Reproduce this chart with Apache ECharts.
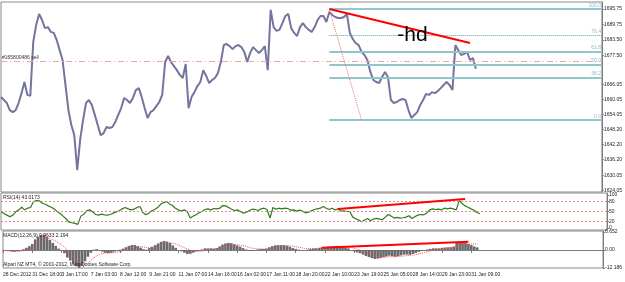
<!DOCTYPE html>
<html>
<head>
<meta charset="utf-8">
<script src="https://cdn.jsdelivr.net/npm/echarts@6/dist/echarts.min.js"></script>
<style>
  html, body { margin: 0; padding: 0; background: #fff; }
  #chart { width: 625px; height: 282px; }
</style>
</head>
<body>
<div id="chart"></div>
<script>
// time axis labels, one every 10 samples
const TIME_LABELS = [
  "28 Dec 2012", "31 Dec 18:00", "3 Jan 17:00", "7 Jan 03:00", "8 Jan 12:00",
  "9 Jan 21:00", "11 Jan 07:00", "14 Jan 16:00", "16 Jan 02:00", "17 Jan 11:00",
  "18 Jan 20:00", "22 Jan 10:00", "23 Jan 19:00", "25 Jan 05:00", "28 Jan 14:00",
  "29 Jan 23:00", "31 Jan 09:00",
];

const PRICE = [
  1661.0, 1659.8, 1658.6, 1655.8, 1655.0, 1655.8, 1658.6, 1662.5, 1666.9, 1661.8,
  1661.4, 1682.7, 1689.4, 1693.8, 1691.4, 1688.2, 1688.6, 1686.7, 1686.3, 1683.5,
  1679.5, 1675.6, 1665.7, 1655.8, 1649.9, 1645.9, 1632.1, 1644.0, 1651.9, 1658.6,
  1659.8, 1657.8, 1653.9, 1649.9, 1645.9, 1646.7, 1649.1, 1648.7, 1649.1, 1651.1,
  1653.9, 1656.6, 1660.6, 1659.8, 1658.6, 1660.6, 1663.7, 1664.5, 1661.0, 1656.6,
  1652.7, 1655.0, 1655.8, 1657.4, 1659.0, 1661.8, 1674.8, 1677.2, 1674.8, 1673.2,
  1671.6, 1669.7, 1668.5, 1674.0, 1656.6, 1661.0, 1662.9, 1665.3, 1666.9, 1671.6,
  1669.3, 1666.5, 1667.7, 1668.5, 1670.5, 1674.8, 1681.5, 1681.9, 1681.1, 1679.9,
  1681.1, 1681.5, 1680.7, 1678.8, 1674.8, 1678.4, 1680.7, 1679.5, 1678.4, 1679.5,
  1681.1, 1671.6, 1695.4, 1688.6, 1687.1, 1687.5, 1690.2, 1693.0, 1693.8, 1688.2,
  1686.3, 1685.1, 1688.6, 1690.2, 1688.6, 1687.5, 1686.7, 1688.6, 1691.4, 1693.0,
  1693.0, 1690.6, 1694.6, 1693.4, 1692.6, 1692.2, 1692.2, 1692.6, 1693.8, 1686.3,
  1683.9, 1682.3, 1681.5, 1678.8, 1677.6, 1675.6, 1670.9, 1667.7, 1666.9, 1666.5,
  1668.9, 1670.9, 1668.9, 1659.8, 1658.6, 1659.0, 1659.8, 1660.2, 1659.8, 1655.8,
  1652.7, 1653.9, 1655.0, 1657.8, 1659.8, 1662.2, 1661.8, 1662.9, 1662.5, 1663.3,
  1664.5, 1665.7, 1666.9, 1665.7, 1663.7, 1681.5, 1679.5, 1677.6, 1678.0, 1678.8,
  1675.6, 1676.4, 1672.1,
];

const RSI = [
  49, 44, 39, 34, 39, 49, 55, 63, 55, 60,
  62, 80, 83, 82, 75, 72, 67, 63, 58, 50,
  44, 36, 28, 18, 16, 14, 11, 36, 42, 52,
  55, 49, 41, 39, 42, 40, 39, 41, 45, 49,
  52, 58, 62, 58, 55, 57, 62, 65, 47, 40,
  45, 52, 56, 62, 72, 77, 80, 73, 68, 60,
  55, 51, 55, 49, 30, 36, 40, 46, 50, 56,
  58, 55, 59, 58, 60, 68, 67, 62, 57, 53,
  55, 50, 45, 48, 53, 57, 56, 53, 58, 60,
  56, 30, 62, 57, 60, 58, 60, 59, 54, 55,
  51, 54, 51, 46, 48, 52, 56, 58, 60, 65,
  60, 56, 60, 55, 58, 51, 52, 50, 50, 33,
  28, 24, 19, 24, 29, 22, 27, 29, 27, 25,
  33, 41, 36, 30, 32, 30, 31, 33, 37, 29,
  34, 39, 41, 40, 45, 55, 58, 56, 57, 55,
  60, 58, 60, 58, 55, 83, 74, 67, 63, 58,
  54, 47, 43.0173,
];

const MACD_MAIN = [
  0, -0.1, -0.3, -0.6, -0.6, -0.5, -0.1, 0.3, 0.8, 1.4,
  2.2, 3.9, 4.9, 5.5, 5.6, 4.8, 3.7, 2.6, 1.5, 0.5,
  0, -1.2, -2.8, -3.9, -5.0, -6.0, -6.6, -5.8, -4.2, -2.5,
  -1.0, 0.1, 0.3, -0.1, -0.6, -1.1, -1.2, -1.0, -0.6, -0.2,
  0.1, 0.5, 1.0, 1.5, 1.8, 1.8, 1.4, 0.9, 0.3, 0.1,
  0.7, 1.2, 1.8, 2.4, 3.0, 3.3, 3.1, 2.6, 1.7, 0.8,
  0, -0.5, -1.0, -1.5, -1.4, -1.0, -0.5, -0.1, 0.2, 0.6,
  0.6, 0.6, 0.5, 0.7, 1.3, 2.0, 2.4, 2.6, 2.5, 2.1,
  1.7, 1.2, 0.7, 0.2, -0.1, -0.4, -0.1, 0.2, 0.4, 0.4,
  0.5, 1.0, 1.4, 1.7, 1.8, 1.8, 1.8, 1.6, 1.2, 0.7,
  0.4, 0.1, -0.1, 0, 0.1, 0.4, 0.5, 0.6, 0.8, 1.0,
  1.1, 1.2, 1.3, 1.4, 1.5, 1.4, 1.2, 0.9, 0.6, 0,
  -0.5, -0.9, -1.2, -1.7, -2.2, -2.6, -3.0, -3.3, -3.2, -3.0,
  -2.7, -2.4, -2.1, -2.3, -2.5, -2.3, -2.0, -1.7, -1.7, -1.8,
  -1.5, -1.1, -0.7, -0.4, -0.1, 0.2, 0.4, 0.6, 0.6, 0.6,
  0.8, 0.9, 1.0, 1.0, 1.3, 2.8, 3.1, 3.0, 2.7, 2.2,
  1.8, 1.3, 0.96,
];

const MACD_SIGNAL = [
  -0.2, -0.2, -0.3, -0.4, -0.5, -0.5, -0.4, -0.3, 0, 0.4,
  1.0, 1.8, 2.6, 3.4, 4.0, 4.3, 4.2, 3.8, 3.3, 2.6,
  1.9, 1.0, 0, -1.1, -2.3, -3.5, -4.6, -5.2, -5.2, -4.7,
  -3.9, -3.0, -2.2, -1.6, -1.2, -1.1, -1.1, -1.1, -1.0, -0.8,
  -0.6, -0.3, 0, 0.4, 0.8, 1.1, 1.3, 1.3, 1.1, 0.9,
  0.8, 0.9, 1.1, 1.4, 1.8, 2.2, 2.5, 2.6, 2.5, 2.2,
  1.8, 1.3, 0.8, 0.3, -0.1, -0.4, -0.5, -0.5, -0.4, -0.2,
  0, 0.2, 0.3, 0.4, 0.6, 0.9, 1.2, 1.5, 1.8, 1.9,
  1.9, 1.8, 1.6, 1.3, 1.0, 0.7, 0.5, 0.4, 0.3, 0.3,
  0.4, 0.5, 0.7, 0.9, 1.1, 1.3, 1.4, 1.5, 1.5, 1.4,
  1.2, 1.0, 0.8, 0.6, 0.5, 0.5, 0.5, 0.5, 0.6, 0.7,
  0.8, 0.9, 1.0, 1.1, 1.2, 1.3, 1.3, 1.2, 1.1, 0.9,
  0.6, 0.3, 0, -0.4, -0.8, -1.2, -1.6, -2.0, -2.3, -2.5,
  -2.6, -2.6, -2.5, -2.5, -2.5, -2.4, -2.3, -2.2, -2.1, -2.0,
  -1.9, -1.7, -1.5, -1.2, -0.9, -0.6, -0.3, -0.1, 0.1, 0.3,
  0.4, 0.5, 0.6, 0.7, 0.8, 1.2, 1.6, 1.9, 2.1, 2.2,
  2.2, 2.2, 2.194,
];

// right axis tick labels
const PRICE_TICKS = [1695.75, 1689.75, 1683.50, 1677.50, 1666.05, 1660.05, 1654.05, 1648.20, 1642.20, 1636.20, 1630.05, 1624.05];
const RSI_TICKS = [100, 80, 50, 20, 0];
const RSI_LEVELS = [80, 50, 20];
const MACD_TICKS = [6.652, 0, -6.65];
const MACD_TICK_TEXT = ["6.652", "0.00", "-12.186"];

// drawing objects on the chart
const LAST_PRICE = 1672.10;
const SELL_LEVEL = 1675.2;
const FIB_HIGH = 1695.75;
const FIB_LOW = 1651.9;
const FIB_LEVELS = [100, 76.4, 61.8, 50, 38.2, 0];
const FIB_START = 112;
const PRICE_TREND = [[112, 1695.75], [160, 1682.3]];
const FIB_DIAGONAL = [[112, 1695.4], [123, 1651.9]];
const RSI_TREND = [[114, 57.6], [157, 87.9]];
const MACD_TREND = [[109, 0.85], [159, 3.07]];
const NOTE_POINT = [135, 1685.5];

const SLOTS = 206;
const LAST_SLOT = SLOTS - 1;
const categories = Array.from({ length: SLOTS }, (_, i) => i);

const FONT = "'Liberation Sans', Arial, sans-serif";
const AXIS_GREY = "#7c7c7c";
const FIB_COLOR = "#93c6ca";

function timeLabel(i) {
  if (i % 10 !== 0) return null;
  const k = i / 10;
  return k < TIME_LABELS.length ? TIME_LABELS[k] : null;
}

function seg(a, b, lineStyle, label) {
  return [
    { coord: a, lineStyle, label: label || { show: false } },
    { coord: b },
  ];
}

const fibLines = FIB_LEVELS.map((lvl) => {
  const v = FIB_LOW + (FIB_HIGH - FIB_LOW) * lvl / 100;
  const dotted = lvl === 76.4;
  return seg(
    [FIB_START, v], [LAST_SLOT, v],
    dotted
      ? { color: "#5f9ea4", width: 1, type: "dotted" }
      : { color: FIB_COLOR, width: 2, type: "solid" },
    {
      show: true, position: "insideEndTop", distance: 1,
      formatter: lvl.toFixed(1), color: "#8fb9c4", fontSize: 5, fontFamily: FONT,
    }
  );
});

const chart = echarts.init(document.getElementById("chart"), null, { renderer: "canvas" });

const gridBase = { left: 1, right: 18, show: true, borderColor: "#8a8a8a", borderWidth: 1, backgroundColor: "#fff" };

function hiddenX(gridIndex) {
  return {
    type: "category", gridIndex, data: categories, boundaryGap: false,
    axisLine: { show: false }, axisTick: { show: false }, axisLabel: { show: false },
    splitLine: { show: false },
  };
}

function rightY(gridIndex, min, max, ticks, formatter) {
  return {
    type: "value", gridIndex, position: "right", min, max,
    axisLine: { show: true, lineStyle: { color: AXIS_GREY } },
    axisTick: { show: true, length: 2, customValues: ticks, lineStyle: { color: AXIS_GREY } },
    axisLabel: {
      show: true, customValues: ticks, formatter, margin: 2,
      fontSize: 5, fontFamily: FONT, color: "#222",
    },
    splitLine: { show: false },
  };
}

const titleStyle = { fontSize: 5, fontWeight: "normal", color: "#222", fontFamily: FONT };

chart.setOption({
  animation: false,
  backgroundColor: "#fff",
  title: [
    { text: "RSI(14) 43.0173", left: 3, top: 195, padding: 0, textStyle: titleStyle },
    { text: "MACD(12,26,9) 0.9633 2.194", left: 3, top: 233, padding: 0, textStyle: titleStyle },
    { text: "Alpari NZ MT4, © 2001-2012, MetaQuotes Software Corp.", left: 3, top: 262, padding: 0, textStyle: titleStyle },
  ],
  grid: [
    { ...gridBase, top: 2, height: 190 },
    { ...gridBase, top: 193, height: 37 },
    { ...gridBase, top: 231, height: 37 },
  ],
  xAxis: [
    hiddenX(0),
    hiddenX(1),
    {
      type: "category", gridIndex: 2, data: categories, boundaryGap: false,
      axisLine: { show: true, lineStyle: { color: AXIS_GREY } },
      axisTick: {
        show: true, length: 3, inside: false,
        interval: (i) => timeLabel(i) !== null,
        lineStyle: { color: AXIS_GREY },
      },
      axisLabel: {
        show: true, interval: (i) => timeLabel(i) !== null,
        formatter: (v, i) => timeLabel(i) || "",
        showMinLabel: true, hideOverlap: false,
        align: "left", margin: 4, fontSize: 5, fontFamily: FONT, color: "#222",
      },
      splitLine: { show: false },
    },
  ],
  yAxis: [
    rightY(0, 1623.43, 1698.52, PRICE_TICKS, (v) => v.toFixed(2)),
    rightY(1, -6, 106, RSI_TICKS, (v) => String(v)),
    rightY(2, -6.65, 7.0, MACD_TICKS, (v) => MACD_TICK_TEXT[MACD_TICKS.indexOf(v)] || ""),
  ],
  series: [
    {
      name: "Price", type: "line", xAxisIndex: 0, yAxisIndex: 0,
      data: PRICE, showSymbol: false, symbol: "none",
      lineStyle: { color: "#74749e", width: 2 },
      markLine: {
        silent: true, symbol: ["none", "none"],
        data: [
          {
            yAxis: SELL_LEVEL,
            lineStyle: { color: "#f2a3a3", width: 1, type: [6, 3, 1, 3] },
            label: {
              show: true, position: "insideStartTop", distance: 1,
              formatter: "#165800486 sell", fontSize: 5, color: "#333", fontFamily: FONT,
            },
          },
          ...fibLines,
          seg(FIB_DIAGONAL[0], FIB_DIAGONAL[1], { color: "#f07070", width: 1, type: "dotted" }),
          seg(PRICE_TREND[0], PRICE_TREND[1], { color: "#ff0000", width: 2, type: "solid" }),
          {
            yAxis: LAST_PRICE,
            lineStyle: { opacity: 0 },
            label: {
              show: true, position: "end", distance: 1, formatter: LAST_PRICE.toFixed(2),
              backgroundColor: "#000", color: "#fff", padding: [1, 1, 0, 1],
              fontSize: 5, fontFamily: FONT,
            },
          },
        ],
      },
      markPoint: {
        silent: true, symbol: "circle", symbolSize: 1,
        itemStyle: { color: "rgba(0,0,0,0)" },
        data: [{
          coord: NOTE_POINT,
          label: {
            show: true, position: "right", distance: 0, formatter: "-hd",
            fontSize: 21, color: "#000", fontFamily: FONT,
          },
        }],
      },
      z: 3,
    },
    {
      name: "RSI", type: "line", xAxisIndex: 1, yAxisIndex: 1,
      data: RSI, showSymbol: false, symbol: "none",
      lineStyle: { color: "#2b7d1e", width: 1.2 },
      markLine: {
        silent: true, symbol: ["none", "none"], label: { show: false },
        data: [
          ...RSI_LEVELS.map((v) => ({ yAxis: v, lineStyle: { color: "#f08a8a", width: 1, type: [2, 2] } })),
          seg(RSI_TREND[0], RSI_TREND[1], { color: "#ff0000", width: 2, type: "solid" }),
        ],
      },
    },
    {
      name: "MACD", type: "bar", xAxisIndex: 2, yAxisIndex: 2,
      data: MACD_MAIN, barCategoryGap: "10%",
      itemStyle: { color: "#6a6a6a" },
      markLine: {
        silent: true, symbol: ["none", "none"], label: { show: false },
        data: [seg(MACD_TREND[0], MACD_TREND[1], { color: "#ff0000", width: 2, type: "solid" })],
      },
    },
    {
      name: "Signal", type: "line", xAxisIndex: 2, yAxisIndex: 2,
      data: MACD_SIGNAL, showSymbol: false, symbol: "none",
      lineStyle: { color: "#ff5050", width: 1, type: "dotted" },
    },
  ],
});

window.addEventListener("resize", () => chart.resize());
</script>
</body>
</html>
